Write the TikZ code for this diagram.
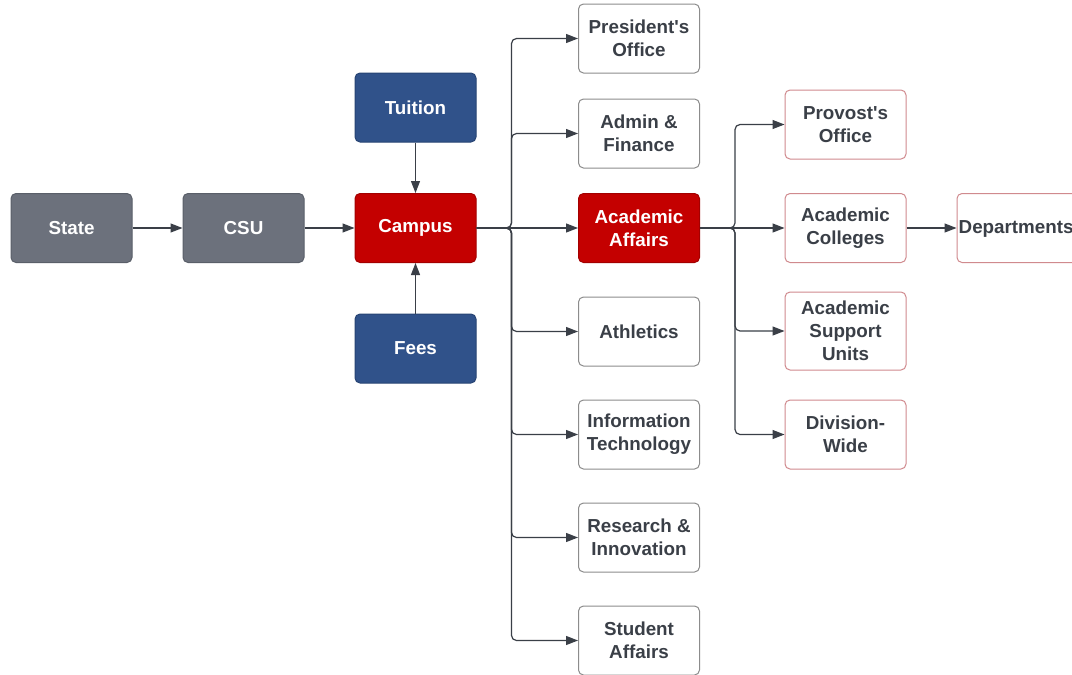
\documentclass[tikz,border=0pt]{standalone}
\usepackage{fontspec}
\setmainfont{Liberation Sans}
\usetikzlibrary{arrows.meta}
\definecolor{txt}{HTML}{3A3F47}
\definecolor{grayfill}{HTML}{6C717C}
\definecolor{grayline}{HTML}{5A5F69}
\definecolor{bluefill}{HTML}{30528A}
\definecolor{blueline}{HTML}{274473}
\definecolor{redfill}{HTML}{C40000}
\definecolor{redline}{HTML}{A30000}
\definecolor{pinkline}{HTML}{D08A8E}
\definecolor{wline}{HTML}{8C8C8C}
\definecolor{arr}{HTML}{3A3F47}
\tikzset{
  box/.style={rectangle, rounded corners=5pt, minimum width=121pt, minimum height=69pt,
    inner sep=0pt, align=center, font=\fontsize{18.8}{23}\selectfont\bfseries, line width=1pt},
  graybox/.style={box, fill=grayfill, draw=grayline, text=white},
  bluebox/.style={box, fill=bluefill, draw=blueline, text=white},
  redbox/.style={box, fill=redfill, draw=redline, text=white},
  whitebox/.style={box, fill=white, draw=wline, text=txt},
  pinkbox/.style={box, fill=white, draw=pinkline, text=txt},
  conn/.style={draw=arr, line width=1.2pt, -{Triangle[length=12pt,width=9pt]}, rounded corners=5pt},
}
\begin{document}
\begin{tikzpicture}[x=1pt,y=-1pt]
\clip (0,0) rectangle (1072,675);
\fill[white] (0,0) rectangle (1072,675);
% left chain
\node[graybox] (state) at (71.5,228) {State};
\node[graybox] (csu) at (243.5,228) {CSU};
\node[redbox] (campus) at (415.5,228) {Campus};
\node[bluebox] (tuition) at (415.5,107.5) {Tuition};
\node[bluebox] (fees) at (415.5,348.5) {Fees};
% column 2
\node[whitebox] (pres) at (639,38.5) {President\textquotesingle s\\Office};
\node[whitebox] (admin) at (639,133.5) {Admin \&\\Finance};
\node[redbox] (acad) at (639,228) {Academic\\Affairs};
\node[whitebox] (ath) at (639,331.5) {Athletics};
\node[whitebox] (it) at (639,434.5) {Information\\Technology};
\node[whitebox] (res) at (639,537.5) {Research \&\\Innovation};
\node[whitebox] (stu) at (639,640.5) {Student\\Affairs};
% column 3
\node[pinkbox] (prov) at (845.5,124.5) {Provost\textquotesingle s\\Office};
\node[pinkbox] (coll) at (845.5,228) {Academic\\Colleges};
\node[pinkbox, minimum height=78pt] (supp) at (845.5,331) {Academic\\Support\\Units};
\node[pinkbox] (div) at (845.5,434.5) {Division-\\Wide};
\node[pinkbox, minimum width=130pt] (dept) at (1022,228) {};
\node[anchor=west, inner sep=0pt, font=\fontsize{18.8}{23}\selectfont\bfseries, text=txt] (deptxt) at ([yshift=-1pt]dept.west) {\hspace{2pt}Departments};
% connectors
\draw[conn] (state) -- (csu);
\draw[conn] (csu) -- (campus);
\draw[conn] (tuition) -- (campus);
\draw[conn] (fees) -- (campus);
\draw[conn] (campus) -- (acad);
\foreach \t in {pres,admin,ath,it,res,stu}
  \draw[conn] (campus.east) -- ++(35,0) |- (\t.west);
\draw[conn] (acad) -- (coll);
\foreach \t in {prov,supp,div}
  \draw[conn] (acad.east) -- ++(35,0) |- (\t.west);
\draw[conn] (coll) -- (dept);
\end{tikzpicture}
\end{document}
